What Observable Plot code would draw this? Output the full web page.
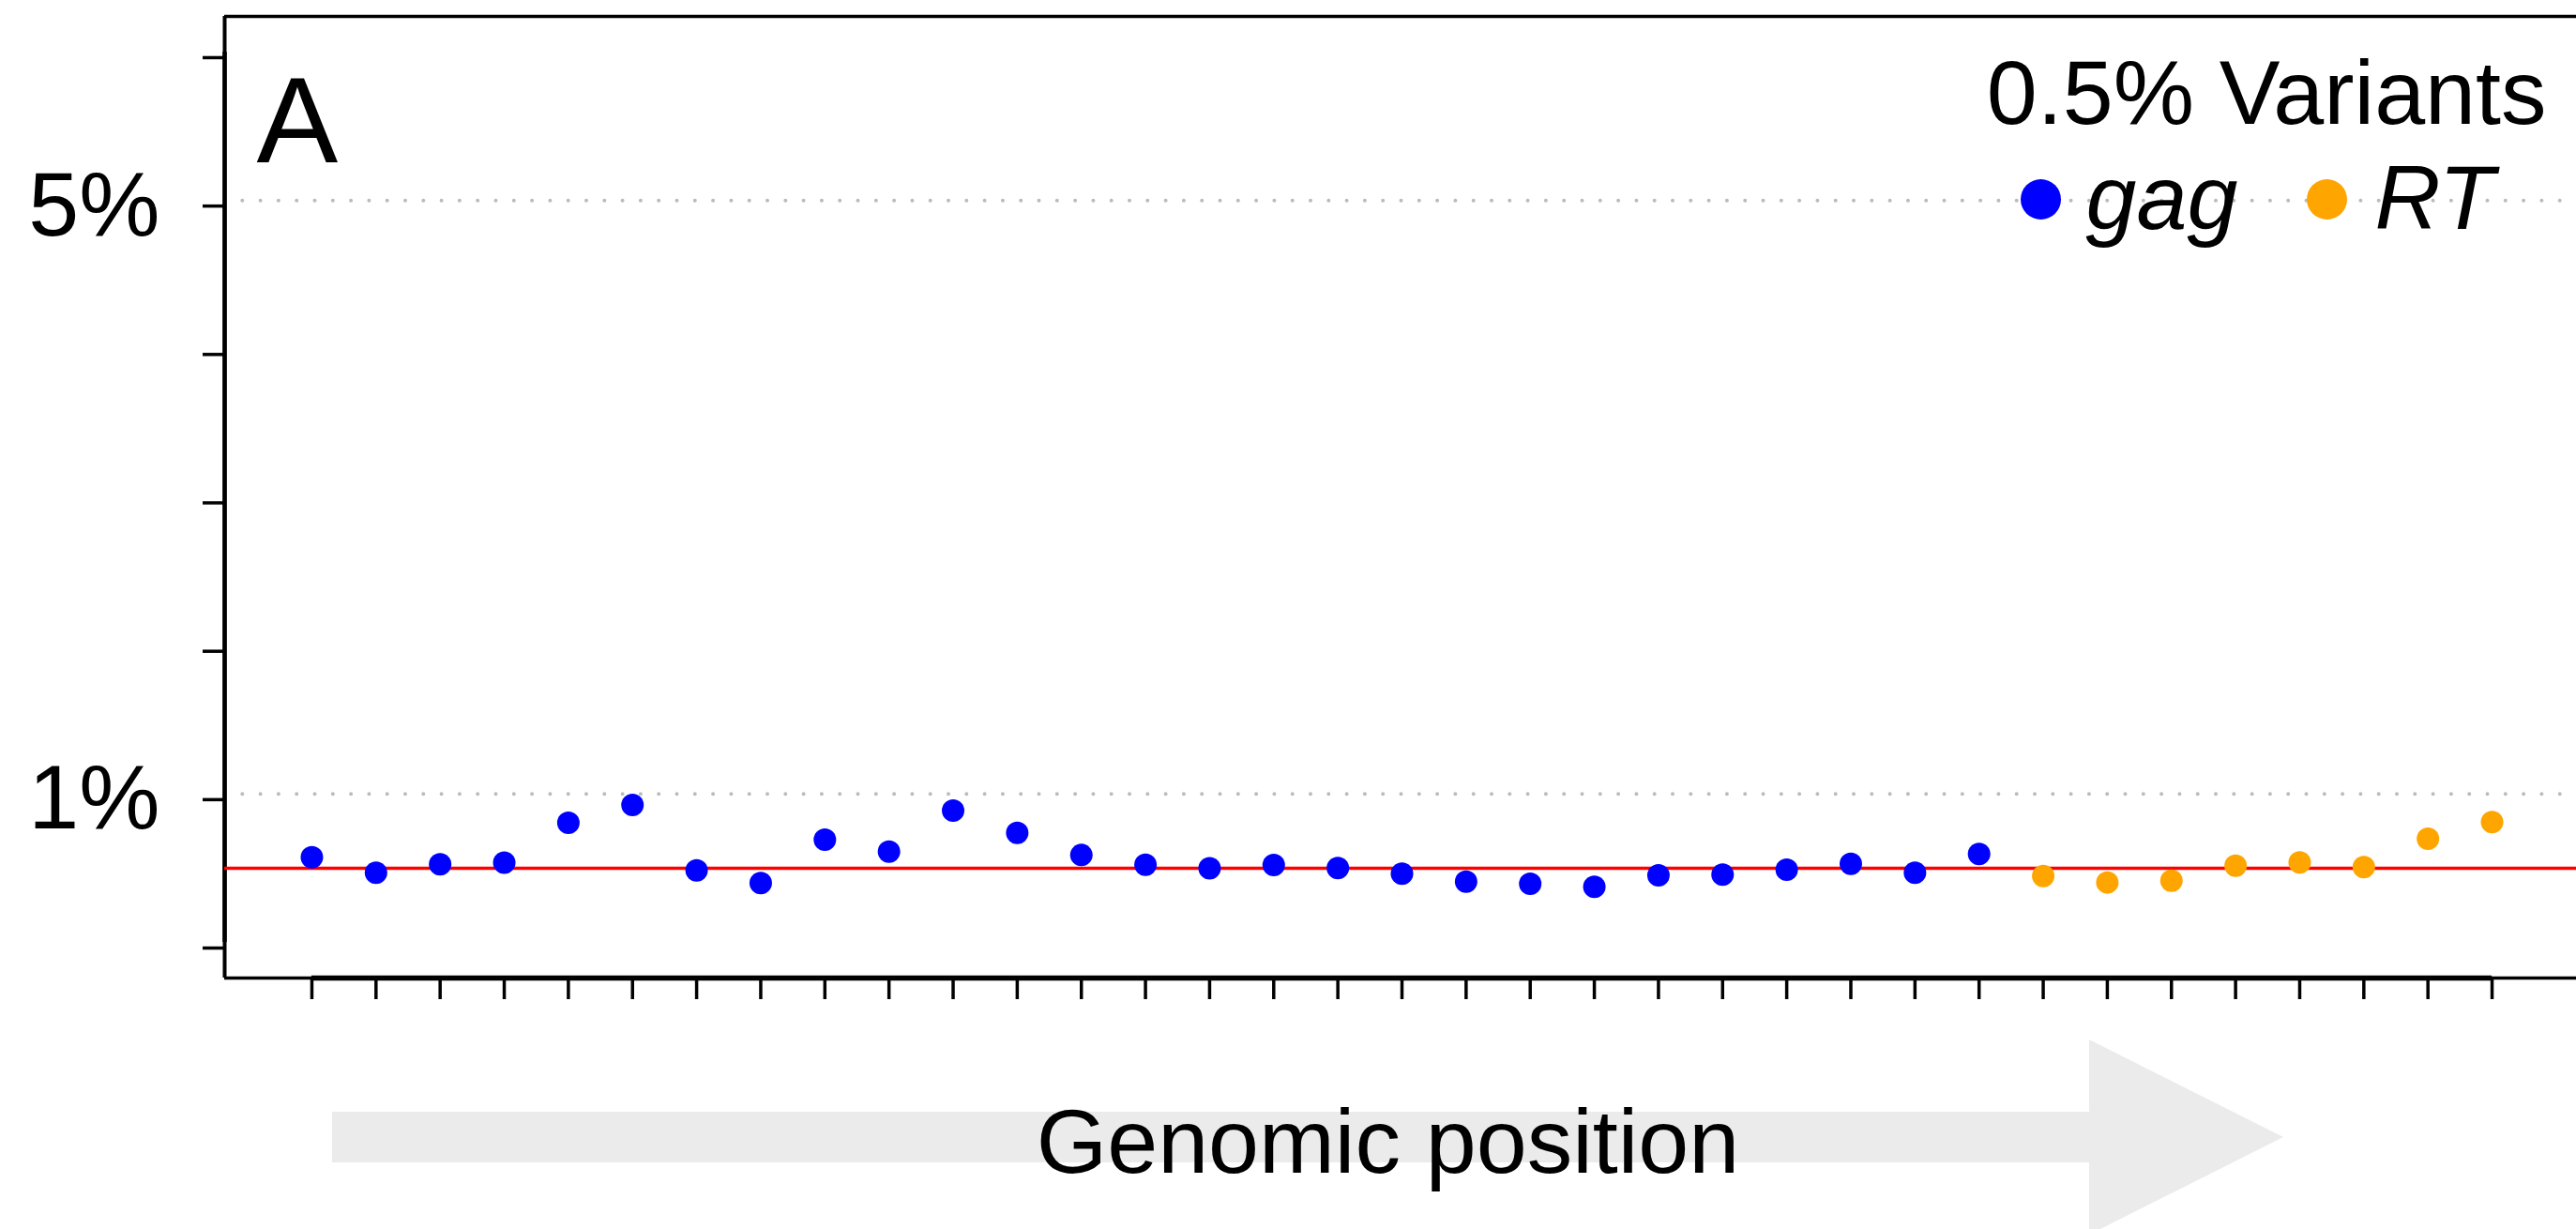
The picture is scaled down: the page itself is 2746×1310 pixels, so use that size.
<!DOCTYPE html>
<html>
<head>
<meta charset="utf-8">
<script src="https://cdn.jsdelivr.net/npm/d3@7"></script>
<script src="https://cdn.jsdelivr.net/npm/@observablehq/plot@0.6"></script>
<style>
  html, body { margin: 0; padding: 0; background: #ffffff; }
  #chart svg { display: block; }
</style>
</head>
<body>
<div id="chart"></div>
<script>
// ---- data ----
const gagFreq = [0.574, 0.469, 0.526, 0.537, 0.806, 0.926, 0.486, 0.400, 0.692, 0.612,
                 0.888, 0.739, 0.589, 0.524, 0.499, 0.522, 0.501, 0.463, 0.410, 0.396,
                 0.375, 0.452, 0.457, 0.490, 0.530, 0.469, 0.596];
const rtFreq = [0.448, 0.404, 0.416, 0.517, 0.539, 0.507, 0.699, 0.811];
const genes = ["gag", "RT"];
const geneColors = ["#0000ff", "#ffa500"];
const yTicks = [0, 1, 2, 3, 4, 5, 6];
const yTickLabels = {1: "1%", 5: "5%"};
const gridValues = [1, 5];
const thresholdValue = 0.5;
const legendTitle = "0.5% Variants";
const panelLabel = "A";
const xLabel = "Genomic position";

const freqs = [...gagFreq, ...rtFreq];
const geneOf = [...gagFreq.map(() => "gag"), ...rtFreq.map(() => "RT")];
const data = freqs.map((f, i) => ({pos: i + 1, freq: f, gene: geneOf[i]}));
const xTicks = data.map(d => d.pos);

const xDomain = [-0.36, 36.36];
const yDomain = [-0.24, 6.24];
const FONT = "'Liberation Sans', Helvetica, Arial, sans-serif";

// decorative arrow below the axis
function arrowMark(index, scales, values, dims) {
  const b = dims.height - dims.marginBottom;
  const x0 = dims.marginLeft + 115, xh = 2227, xt = 2434;
  const p = [[x0, b + 143], [xh, b + 143], [xh, b + 66], [xt, b + 170],
             [xh, b + 274], [xh, b + 197], [x0, b + 197]];
  return d3.create("svg:path")
    .attr("d", "M" + p.map(q => q.join(",")).join("L") + "Z")
    .attr("fill", "#ebebeb")
    .node();
}

const chart = Plot.plot({
  width: 2746,
  height: 1310,
  marginLeft: 239,
  marginRight: -3,
  marginTop: 17,
  marginBottom: 268,
  style: {fontFamily: FONT, background: "#ffffff", color: "#000000", overflow: "hidden"},
  x: {domain: xDomain, axis: null},
  y: {domain: yDomain, axis: null},
  color: {domain: genes, range: geneColors},
  marks: [
    arrowMark,
    // dotted reference gridlines at 1% and 5%
    Plot.ruleY(gridValues, {stroke: "#bbbbbb", strokeWidth: 4, strokeDasharray: "0,19.3", strokeLinecap: "round"}),
    // frame (top, left, bottom)
    Plot.ruleY([yDomain[1]], {stroke: "#000", strokeWidth: 3.5}),
    Plot.ruleY([yDomain[0]], {stroke: "#000", strokeWidth: 3.5}),
    Plot.ruleX([xDomain[0]], {stroke: "#000", strokeWidth: 4}),
    // axis lines spanning first..last tick
    Plot.ruleY([yDomain[0]], {x1: xTicks[0], x2: xTicks[xTicks.length - 1], stroke: "#000", strokeWidth: 5.5}),
    Plot.ruleX([xDomain[0]], {y1: yTicks[0], y2: yTicks[yTicks.length - 1], stroke: "#000", strokeWidth: 4.5}),
    Plot.axisX(xTicks, {tickSize: 23, stroke: "#000", strokeWidth: 3.5, tickFormat: () => "", label: null}),
    Plot.axisY(yTicks, {tickSize: 23, tickPadding: 46, stroke: "#000", strokeWidth: 3.5, fontSize: 97, dy: 6,
                        tickFormat: d => yTickLabels[d] || "", label: null}),
    // threshold line
    Plot.ruleY([thresholdValue], {stroke: "#ff0000", strokeWidth: 3.5}),
    // variant points
    Plot.dot(data, {x: "pos", y: "freq", fill: "gene", r: 12, stroke: null}),
    // panel label
    Plot.text([panelLabel], {frameAnchor: "top-left", text: d => d, textAnchor: "start", lineAnchor: "bottom",
                             dx: 34, dy: 155, fontSize: 130, fill: "#000"}),
    // legend
    Plot.text([legendTitle], {frameAnchor: "top-right", text: d => d, textAnchor: "end", lineAnchor: "bottom",
                              dx: -35, dy: 114, fontSize: 97, fill: "#000"}),
    Plot.dot([genes[0]], {frameAnchor: "top-right", dx: -574, dy: 195, r: 21.5, fill: geneColors[0]}),
    Plot.text([genes[0]], {frameAnchor: "top-right", text: d => d, textAnchor: "start", lineAnchor: "bottom",
                           dx: -526, dy: 226, fontSize: 97, fontStyle: "italic", fill: "#000"}),
    Plot.dot([genes[1]], {frameAnchor: "top-right", dx: -269, dy: 195, r: 21.5, fill: geneColors[1]}),
    Plot.text([genes[1]], {frameAnchor: "top-right", text: d => d, textAnchor: "start", lineAnchor: "bottom",
                           dx: -218, dy: 226, fontSize: 97, fontStyle: "italic", fill: "#000"}),
    // x-axis title
    Plot.text([xLabel], {frameAnchor: "bottom", text: d => d, textAnchor: "middle", lineAnchor: "bottom",
                         dx: -15, dy: 207, fontSize: 97, fill: "#000"})
  ]
});

document.getElementById("chart").appendChild(chart);
</script>
</body>
</html>
